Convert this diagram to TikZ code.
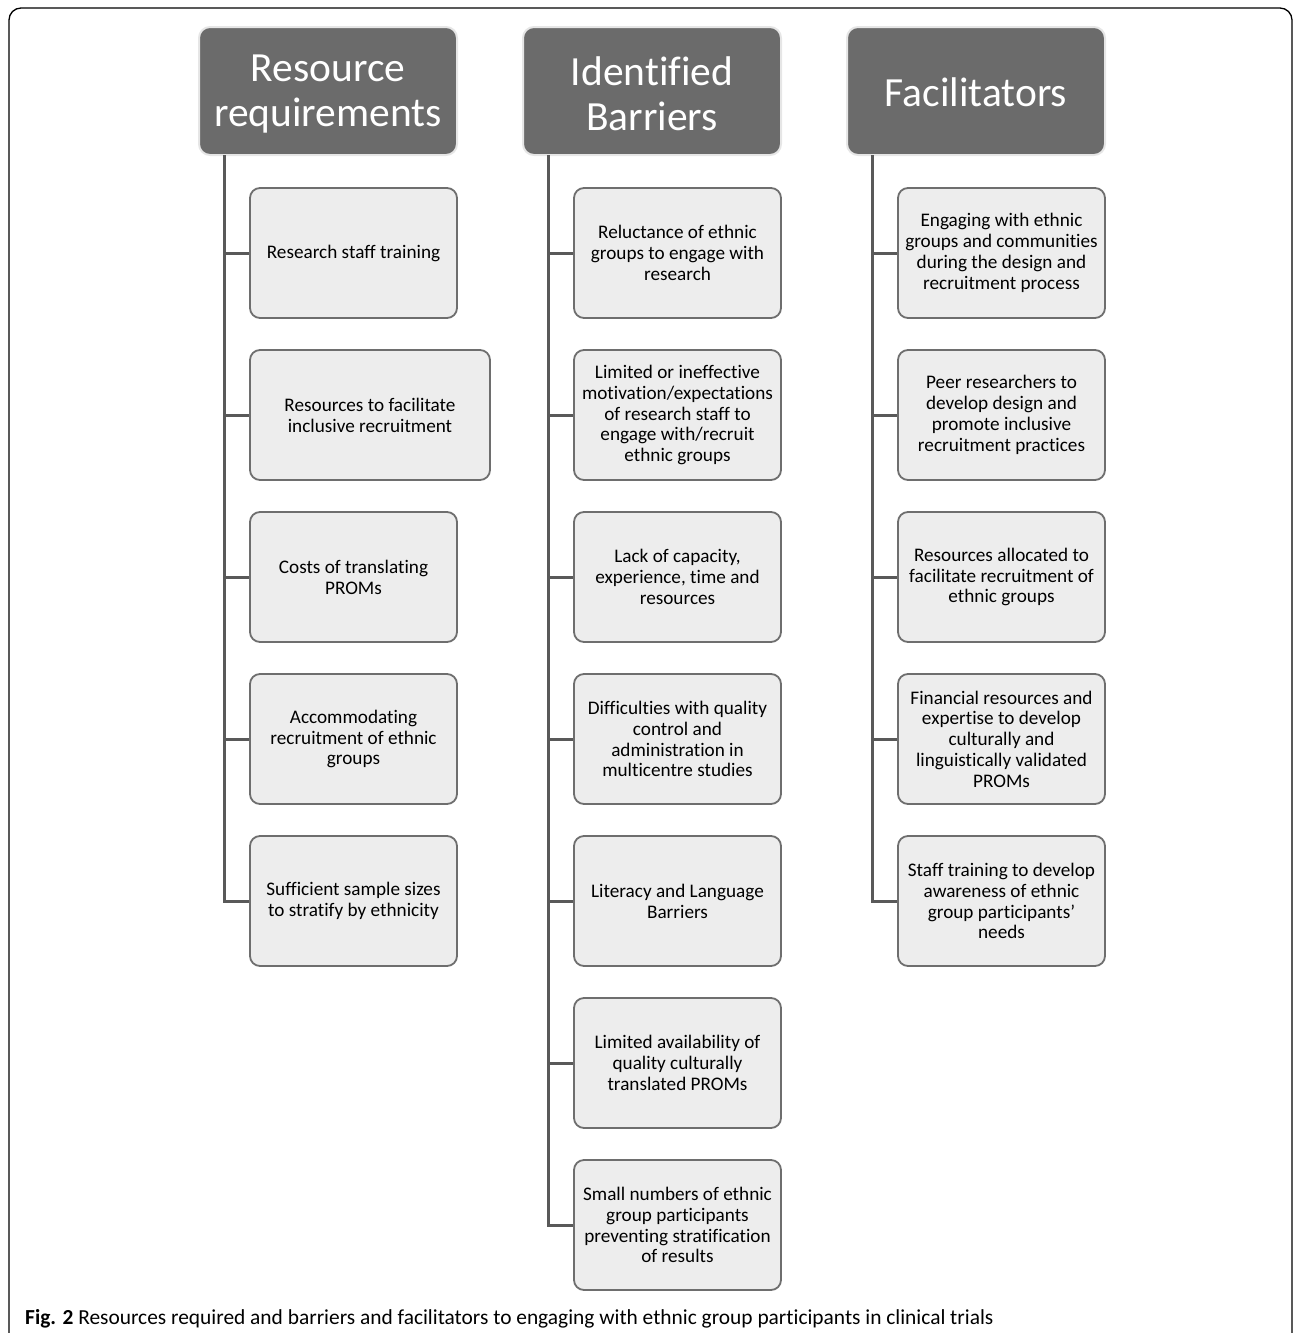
\documentclass[tikz,border=0pt]{standalone}
\usepackage{fontspec}
\setmainfont{Carlito}[Ligatures=NoCommon]
\definecolor{headfill}{HTML}{6B6B6B}
\definecolor{headedge}{HTML}{E6E6E6}
\definecolor{boxfill}{HTML}{EDEDED}
\definecolor{boxedge}{HTML}{6E6E6E}
\definecolor{linkcol}{HTML}{595959}
\begin{document}
\begin{tikzpicture}[x=1pt,y=-1pt,
  headbox/.style={rounded corners=11pt, fill=headfill, draw=headedge, line width=2pt,
    minimum width=258pt, minimum height=128pt, text=white, align=center,
    font=\fontsize{41.5}{45}\selectfont, inner sep=0pt},
  headtext/.style={text=white, align=center, font=\fontsize{41.5}{45}\selectfont, inner sep=0pt},
  itembox/.style={rounded corners=10pt, fill=boxfill, draw=boxedge, line width=1.8pt,
    minimum width=207pt, minimum height=130pt, align=center,
    font=\fontsize{19.2}{20.8}\selectfont, inner sep=0pt},
  link/.style={draw=linkcol, line width=3pt},
  frame/.style={draw=black, line width=1.3pt, rounded corners=12pt}]
\useasboundingbox (0,0) rectangle (1293,1333);
\begin{scope}
\clip (0,0) rectangle (1293,1333);
\path[frame] (9,1345) -- (9,8) -- (1292,8) -- (1292,1345);
\end{scope}
% headers
\node[headbox] (h1) at (328,91) {};
\node[headbox] (h2) at (652,91) {};
\node[headbox] (h3) at (976,91) {};
\node[headtext] (t1) at (328,94) {Resource\\requirements};
\node[headtext] (t2) at (652,94) {Identified\\Barriers};
\node[headtext] (t3) at (976,92) {Facilitators};
% column 1
\node[itembox] (a1) at (353.5,253) {Research staff training};
\node[itembox, minimum width=240pt] (a2) at (370,415) {Resources to facilitate\\inclusive recruitment};
\node[itembox] (a3) at (353.5,577) {Costs of translating\\PROMs};
\node[itembox] (a4) at (353.5,739) {Accommodating\\recruitment of ethnic\\groups};
\node[itembox] (a5) at (353.5,901) {Sufficient sample sizes\\to stratify by ethnicity};
% column 2
\node[itembox] (b1) at (677.5,253) {Reluctance of ethnic\\groups to engage with\\research};
\node[itembox] (b2) at (677.5,415) {Limited or ineffective\\motivation/expectations\\of research staff to\\engage with/recruit\\ethnic groups};
\node[itembox] (b3) at (677.5,577) {Lack of capacity,\\experience, time and\\resources};
\node[itembox] (b4) at (677.5,739) {Difficulties with quality\\control and\\administration in\\multicentre studies};
\node[itembox] (b5) at (677.5,901) {Literacy and Language\\Barriers};
\node[itembox] (b6) at (677.5,1063) {Limited availability of\\quality culturally\\translated PROMs};
\node[itembox] (b7) at (677.5,1225) {Small numbers of ethnic\\group participants\\preventing stratification\\of results};
% column 3
\node[itembox] (c1) at (1001.5,253) {Engaging with ethnic\\groups and communities\\during the design and\\recruitment process};
\node[itembox] (c2) at (1001.5,415) {Peer researchers to\\develop design and\\promote inclusive\\recruitment practices};
\node[itembox] (c3) at (1001.5,577) {Resources allocated to\\facilitate recruitment of\\ethnic groups};
\node[itembox] (c4) at (1001.5,739) {Financial resources and\\expertise to develop\\culturally and\\linguistically validated\\PROMs};
\node[itembox] (c5) at (1001.5,901) {Staff training to develop\\awareness of ethnic\\group participants{\char"0027}\\needs};
% spines
\coordinate (s1) at (224,155);
\coordinate (s2) at (548,155);
\coordinate (s3) at (872,155);
\draw[link] (s1) |- (a5.west);
\foreach \n in {a1,a2,a3,a4} \draw[link] (s1 |- \n.west) -- (\n.west);
\draw[link] (s2) |- (b7.west);
\foreach \n in {b1,b2,b3,b4,b5,b6} \draw[link] (s2 |- \n.west) -- (\n.west);
\draw[link] (s3) |- (c5.west);
\foreach \n in {c1,c2,c3,c4} \draw[link] (s3 |- \n.west) -- (\n.west);
% caption
\node[anchor=base west, inner sep=0pt, font=\fontsize{21.4}{24}\selectfont] (cap) at (25,1324)
  {\textbf{Fig. 2} Resources required and barriers and facilitators to engaging with ethnic group participants in clinical trials};
\end{tikzpicture}
\end{document}
